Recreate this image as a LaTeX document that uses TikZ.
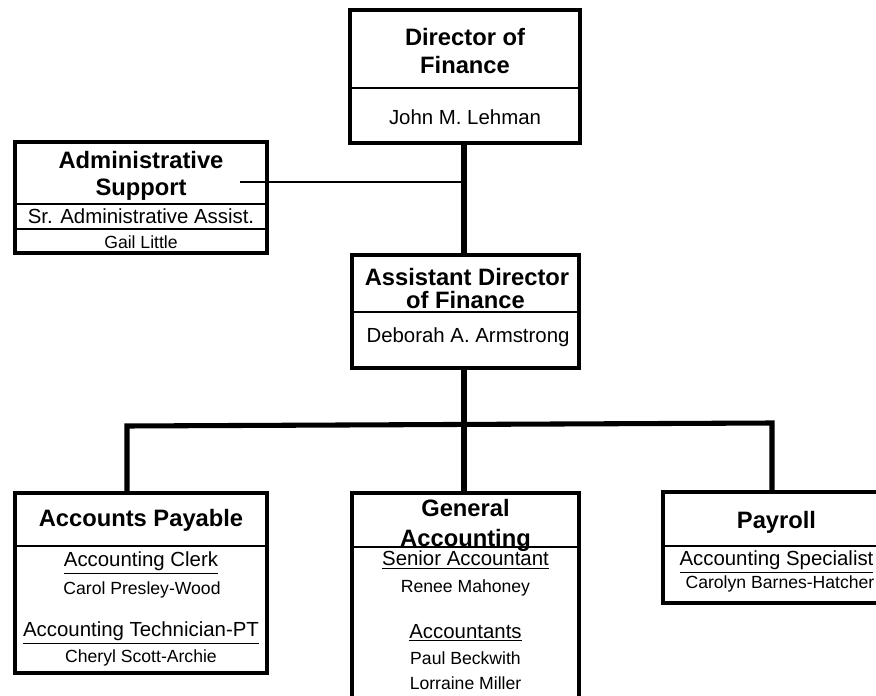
\documentclass[tikz,border=0pt]{standalone}
\usepackage{fontspec}
\setmainfont{Liberation Sans}
\begin{document}
\begin{tikzpicture}[x=0.75pt,y=-0.75pt,
  box/.style={draw=black,line width=3pt,fill=white,inner sep=0pt},
  divider/.style={line width=1.5pt},
  conn/.style={line width=3.8pt},
  thinconn/.style={line width=0.8pt},
  ttl/.style={font=\bfseries\fontsize{17.8}{21}\selectfont,inner sep=0pt,align=center},
  job/.style={font=\fontsize{15.3}{18}\selectfont,inner sep=0pt},
  nm/.style={font=\fontsize{13.2}{16}\selectfont,inner sep=0pt}]
\clip (0,0) rectangle (876,696);
\fill[white] (0,0) rectangle (876,696);

\coordinate (adm) at (240,182);
\coordinate (bl) at (127,426);
\coordinate (br) at (772,423);
\coordinate (bm) at (464,424.5);

% boxes
\node[box,minimum width=172.5pt,minimum height=99.75pt] (dir) at (465,76.5) {};
\node[box,minimum width=189pt,minimum height=83.25pt] (admin) at (141,197.5) {};
\node[box,minimum width=170.25pt,minimum height=84.75pt] (asst) at (465.5,311.5) {};
\node[box,minimum width=189pt,minimum height=135pt] (ap) at (141,583) {};
\node[box,minimum width=170.25pt,minimum height=162.75pt] (ga) at (465.5,601.5) {};
\node[box,minimum width=170.25pt,minimum height=83.25pt] (pay) at (776.5,547.5) {};

% connectors
\draw[conn] (dir.south -| bm) -- (asst.north -| bm);
\draw[thinconn] (adm) -- (adm -| bm);
\draw[conn] (asst.south -| bm) -- (ga.north -| bm);
\draw[conn] (bl |- ap.north) -- (bl) -- (br) -- (br |- pay.north);

% dividers
\draw[divider] (dir.west |- 0,88) -- (dir.east |- 0,88);
\draw[divider] (admin.west |- 0,204) -- (admin.east |- 0,204);
\draw[divider] (admin.west |- 0,229) -- (admin.east |- 0,229);
\draw[divider] (asst.west |- 0,312) -- (asst.east |- 0,312);
\draw[divider] (ap.west |- 0,546) -- (ap.east |- 0,546);
\draw[divider] (pay.west |- 0,546) -- (pay.east |- 0,546);

% Director
\node[ttl] (dirt1) at (465,37) {Director of};
\node[ttl] (dirt2) at (465,65) {Finance};
\node[job] (dirn) at (465,117) {John M. Lehman};

% Admin
\node[ttl] (admt1) at (141,160) {Administrative};
\node[ttl] (admt2) at (141,190) {Support};
\node[job] (admj) at (141,216.5) {Sr. Administrative Assist.};
\node[nm] (admn) at (141,242) {Gail Little};

% Assistant
\node[ttl] (ast1) at (467,277) {Assistant Director};
\node[ttl] (ast2) at (465.5,300) {of Finance};
\node[job] (asn) at (468,337) {Deborah A. Armstrong};

% Accounts Payable
\node[ttl] (apt) at (141,520) {Accounts Payable};
\node[job] (apj1) at (141,563) {\underline{Accounting Clerk}};
\node[nm] (apn1) at (142,590) {Carol Presley-Wood};
\node[job] (apj2) at (141,633) {\underline{Accounting Technician-PT}};
\node[nm] (apn2) at (141,658) {Cheryl Scott-Archie};

% General Accounting
\node[ttl] (gat1) at (465.5,508) {General};
\node[ttl] (gat2) at (465.5,540) {Accounting};
\draw[divider] (ga.west |- 0,547) -- (ga.east |- 0,547);
\node[job] (gaj1) at (465.5,560) {\underline{Senior Accountant}};
\node[nm] (gan1) at (465.5,588) {Renee Mahoney};
\node[job] (gaj2) at (465.5,633) {\underline{Accountants}};
\node[nm] (gan2) at (465.5,658) {Paul Beckwith};
\node[nm] (gan3) at (465.5,683) {Lorraine Miller};

% Payroll
\node[ttl] (payt) at (776.5,522) {Payroll};
\node[job] (payj) at (776.5,562) {\underline{Accounting Specialist}};
\node[nm] (payn) at (780,584) {Carolyn Barnes-Hatcher};
\end{tikzpicture}
\end{document}
